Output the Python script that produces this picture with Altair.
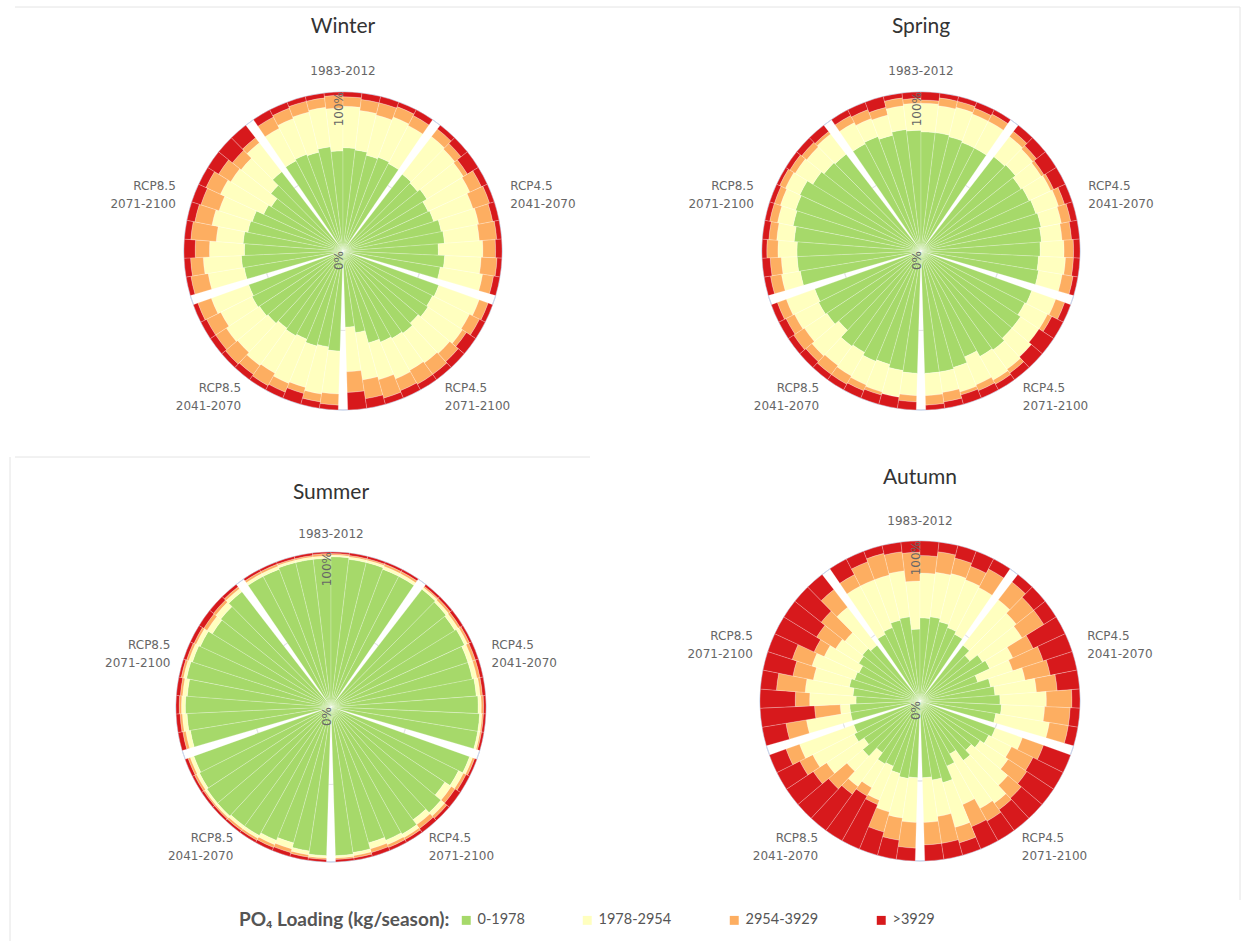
import math
import altair as alt
import pandas as pd

SEASONS = ["Winter", "Spring", "Summer", "Autumn"]
PERIODS = ["1983-2012", "RCP4.5\n2041-2070", "RCP4.5\n2071-2100",
           "RCP8.5\n2041-2070", "RCP8.5\n2071-2100"]
CLASSES = ["0-1978", "1978-2954", "2954-3929", ">3929"]
COLORS = ["#a6d96a", "#ffffbf", "#fdae61", "#d7191c"]

# Cumulative share (%) at the top of each loading class, one row per period,
# ten bars per period, clockwise.  The top class always reaches 100 %.
winter_green = [
    [64, 65, 64, 66, 63, 65, 64, 62, 63, 62],
    [61, 60, 62, 59, 60, 63, 64, 60, 64, 62],
    [64, 63, 64, 62, 64, 63, 62, 60, 52, 48],
    [63, 61, 62, 60, 61, 60, 62, 63, 64, 63],
    [63, 64, 62, 63, 61, 60, 55, 53, 58, 63],
]
winter_yellow = [
    [87, 89, 90, 91, 90, 91, 89, 88, 90, 89],
    [91, 90, 89, 88, 86, 87, 86, 88, 87, 89],
    [91, 89, 90, 88, 87, 86, 87, 84, 82, 76],
    [90, 91, 89, 90, 88, 89, 87, 88, 86, 88],
    [86, 88, 84, 80, 84, 82, 85, 83, 82, 86],
]
winter_orange = [
    [95, 96, 97, 97, 98, 97, 96, 96, 97, 96],
    [97, 95, 92, 96, 97, 96, 97, 96, 97, 96],
    [97, 96, 93, 95, 96, 96, 95, 96, 94, 89],
    [97, 96, 93, 96, 97, 96, 97, 96, 96, 97],
    [97, 96, 93, 96, 95, 94, 95, 92, 89, 90],
]

spring_green = [
    [76, 77, 75, 77, 76, 75, 75, 74, 73, 73],
    [75, 76, 74, 75, 76, 77, 76, 75, 74, 75],
    [74, 73, 75, 75, 77, 76, 72, 76, 77, 77],
    [77, 76, 74, 75, 73, 74, 68, 71, 72, 71],
    [77, 78, 78, 80, 82, 83, 84, 80, 78, 77],
]
spring_yellow = [
    [91, 89, 88, 92, 93, 93, 92, 93, 92, 92],
    [91, 90, 89, 90, 91, 90, 89, 90, 91, 90],
    [90, 89, 90, 91, 92, 93, 91, 92, 90, 91],
    [91, 93, 92, 91, 90, 89, 90, 88, 89, 90],
    [89, 88, 90, 91, 92, 93, 94, 93, 92, 93],
]
spring_orange = [
    [96, 95, 93, 97, 96, 95, 97, 97, 96, 97],
    [95, 93, 91, 92, 95, 96, 95, 96, 96, 97],
    [96, 92, 89, 91, 95, 96, 95, 94, 96, 97],
    [95, 93, 94, 95, 96, 96, 95, 96, 95, 96],
    [96, 95, 97, 96, 97, 97, 98, 97, 96, 95],
]

summer_green = [
    [95, 95, 96, 96, 96, 97, 96, 96, 95, 95],
    [96, 95, 94, 95, 93, 93, 94, 95, 96, 96],
    [95, 92, 88, 93, 90, 94, 93, 91, 95, 96],
    [96, 94, 91, 93, 95, 95, 96, 96, 95, 94],
    [92, 93, 94, 93, 95, 94, 93, 90, 91, 94],
]
summer_yellow = [
    [97, 97, 97.5, 97.5, 97.5, 98, 97.5, 97.5, 97, 97],
    [97.5, 97, 96.5, 97, 96, 96, 96.5, 97, 97.5, 97.5],
    [97, 95.5, 93, 96, 94, 96.5, 96, 95, 97, 97.5],
    [97.5, 96.5, 95, 96, 97, 97, 97.5, 97.5, 97, 96.5],
    [95, 96, 96.5, 96, 97, 96.5, 96, 94, 95, 96.5],
]
summer_orange = [
    [98.5, 98.5, 98.5, 98.5, 99, 99, 98.5, 98.5, 98.5, 98.5],
    [98.5, 98.5, 98, 98.5, 98, 98, 98, 98.5, 98.5, 98.5],
    [98.5, 97.5, 96, 98, 97, 98, 98, 97.5, 98.5, 98.5],
    [98.5, 98, 97.5, 98, 98.5, 98.5, 98.5, 98.5, 98.5, 98],
    [97, 97.5, 98, 97.5, 98.5, 98, 97.5, 96.5, 97, 98],
]

autumn_green = [
    [47, 49, 52, 53, 45, 52, 53, 51, 49, 47],
    [44, 40, 46, 48, 38, 45, 47, 50, 51, 48],
    [50, 48, 45, 42, 46, 38, 44, 53, 50, 48],
    [48, 49, 47, 44, 45, 40, 47, 42, 46, 44],
    [44, 44, 40, 42, 45, 43, 42, 45, 46, 44],
]
autumn_yellow = [
    [81, 81, 81, 82, 75, 80, 81, 82, 81, 80],
    [80, 77, 75, 64, 61, 67, 73, 79, 78, 82],
    [68, 64, 66, 72, 79, 77, 70, 82, 73, 76],
    [76, 74, 72, 67, 62, 66, 60, 70, 75, 80],
    [72, 50, 69, 72, 68, 71, 66, 62, 60, 74],
]
autumn_orange = [
    [89, 93, 95, 94, 93, 91, 94, 92, 90, 93],
    [94, 91, 91, 78, 81, 83, 86, 95, 94, 94],
    [82, 79, 80, 83, 84, 86, 85, 92, 90, 90],
    [92, 88, 85, 70, 68, 72, 75, 80, 84, 89],
    [85, 66, 78, 90, 81, 84, 73, 76, 79, 88],
]

BOUNDS = {
    "Winter": (winter_green, winter_yellow, winter_orange),
    "Spring": (spring_green, spring_yellow, spring_orange),
    "Summer": (summer_green, summer_yellow, summer_orange),
    "Autumn": (autumn_green, autumn_yellow, autumn_orange),
}

# panel layout: polar centre, outer radius, label distance and title height
CENTERS = {"Winter": (343, 251), "Spring": (921, 251),
           "Summer": (331, 707), "Autumn": (920, 701)}
RADIUS = {"Winter": 159, "Spring": 159, "Summer": 155, "Autumn": 160}
LABEL_R = {"Winter": 180, "Spring": 180, "Summer": 173, "Autumn": 180}
TITLE_Y = {"Winter": 27, "Spring": 27, "Summer": 493, "Autumn": 478}

N_BARS = 10
GAP = 0.5        # empty slot between periods, in bar widths
SLOT = N_BARS + GAP

rows = []
for season in SEASONS:
    g, y, o = BOUNDS[season]
    for k, period in enumerate(PERIODS):
        for j in range(N_BARS):
            edges = [0, g[k][j], y[k][j], o[k][j], 100]
            start = k * SLOT + GAP / 2 + j
            for c, cls in enumerate(CLASSES):
                rows.append(dict(season=season, period=period, cls=cls,
                                 t0=start, t1=start + 1,
                                 lo=edges[c], hi=edges[c + 1]))
bars = pd.DataFrame(rows)

periods = pd.DataFrame({"period": PERIODS,
                        "mid": [k * SLOT + SLOT / 2 for k in range(len(PERIODS))]})
ticks = pd.DataFrame({"v": [0, 100], "txt": ["0%", "100%"]})

TAU = 2 * math.pi
theta_scale = alt.Scale(domain=[0, 5 * SLOT],
                        range=[TAU - TAU / 10, 2 * TAU - TAU / 10])
color_scale = alt.Scale(domain=CLASSES, range=COLORS)

legend = alt.Legend(
    title="PO₄ Loading (kg/season):", orient="none", legendX=239, legendY=913,
    direction="horizontal", titleOrient="left", titleFont="Lato",
    titleFontSize=19, titleFontWeight="bold", titleColor="#555555",
    titleLimit=400, titlePadding=9, symbolType="square", symbolSize=80,
    symbolStrokeWidth=0, labelFont="Lato", labelFontSize=14.5,
    labelColor="#555555", labelOffset=4, labelLimit=200, columnPadding=55,
)

LABEL_STYLE = dict(font="DejaVu Sans", fontSize=12, color="#666666",
                   lineBreak="\n", lineHeight=18, baseline="middle")


def season_layers(season):
    cx, cy = CENTERS[season]
    radius_scale = alt.Scale(type="linear", domain=[0, 100],
                             range=[0, RADIUS[season]])
    out = []
    # radial grid circle at 50 % and the outer axis line
    for value, col in ((50, "#e6e6e6"), (100, "#ccd6eb")):
        out.append(
            alt.Chart(pd.DataFrame({"r": [value]})).mark_arc(
                fillOpacity=0, stroke=col, strokeWidth=1
            ).encode(
                x=alt.value(cx), y=alt.value(cy),
                theta=alt.value(0), theta2=alt.value(TAU),
                radius=alt.Radius("r:Q", scale=radius_scale),
                radius2="r:Q",
            )
        )
    out.append(
        alt.Chart(bars).transform_filter(alt.datum.season == season).mark_arc(
            stroke="white", strokeWidth=0.5, strokeOpacity=0.45
        ).encode(
            x=alt.value(cx), y=alt.value(cy),
            theta=alt.Theta("t0:Q", scale=theta_scale, stack=None),
            theta2="t1:Q",
            radius=alt.Radius("hi:Q", scale=radius_scale, stack=None),
            radius2="lo:Q",
            color=alt.Color("cls:N", scale=color_scale, legend=legend),
        )
    )
    # period labels round the rim: one line on top, two lines elsewhere
    for names, align, dx, dy in ((PERIODS[:1], "center", 0, 0),
                                 (PERIODS[1:3], "left", -4, -9),
                                 (PERIODS[3:], "right", 4, -9)):
        out.append(
            alt.Chart(periods).transform_filter(
                alt.FieldOneOfPredicate(field="period", oneOf=names)
            ).mark_text(align=align, dx=dx, dy=dy, **LABEL_STYLE).encode(
                x=alt.value(cx), y=alt.value(cy),
                theta=alt.Theta("mid:Q", scale=theta_scale, stack=None),
                radius=alt.value(LABEL_R[season]),
                text="period:N",
            )
        )
    out.append(
        alt.Chart(ticks).mark_text(
            angle=270, align="right", baseline="alphabetic",
            font="DejaVu Sans", fontSize=12, color="#666666"
        ).encode(
            x=alt.value(cx), y=alt.value(cy),
            theta=alt.value(0),
            radius=alt.Radius("v:Q", scale=radius_scale),
            text="txt:N",
        )
    )
    out.append(
        alt.Chart(pd.DataFrame({"name": [season]})).mark_text(
            font="Lato", fontSize=21, color="#333333", baseline="middle"
        ).encode(
            x=alt.value(cx), y=alt.value(TITLE_Y[season]), text="name:N"
        )
    )
    return out


# faint frame lines around the panels
frame = pd.DataFrame({
    "x": [15, 1240, 10, 15], "x2": [1240, 1240, 10, 590],
    "y": [7, 7, 457, 457], "y2": [7, 900, 941, 457],
})
frame_layer = alt.Chart(frame).mark_rule(color="#e4e4e4", strokeWidth=1).encode(
    x=alt.X("x:Q", scale=None), x2="x2:Q",
    y=alt.Y("y:Q", scale=None), y2="y2:Q",
)

layers = [frame_layer]
for s in SEASONS:
    layers.extend(season_layers(s))

chart = alt.layer(*layers).resolve_scale(radius="independent").properties(
    width=1249, height=941, padding=0,
    autosize=alt.AutoSizeParams(type="none"),
).configure_view(strokeWidth=0)

chart.save("out.html", embed_options={"renderer": "svg", "actions": False})
